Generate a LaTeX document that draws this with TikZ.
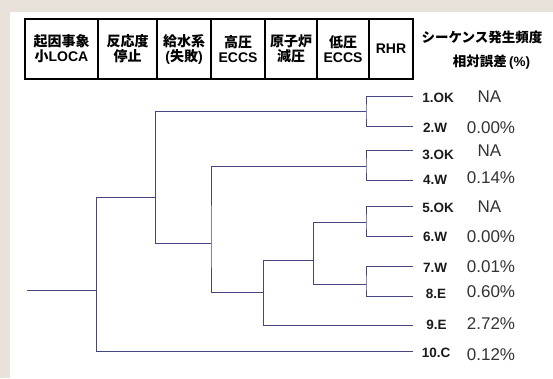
\documentclass[tikz,border=0pt]{standalone}
\usepackage{fontspec}
\setmainfont{Liberation Sans}
\newfontfamily\cjk{Noto Sans CJK JP}
\definecolor{bgc}{HTML}{E9E2DB}
\definecolor{treec}{HTML}{45457F}
\definecolor{labc}{HTML}{1A1A1A}
\definecolor{valc}{HTML}{333333}
\begin{document}
\begin{tikzpicture}[x=1pt,y=-1pt,
  tree/.style={draw=treec, line width=1.0pt},
  hbox/.style={draw=black, line width=1.1pt, inner sep=0pt, align=center, minimum height=60pt,
    font=\bfseries\fontsize{14}{15}\selectfont, text=black},
  lab/.style={inner sep=0pt, font=\bfseries\fontsize{13.5}{14}\selectfont, text=labc},
  val/.style={inner sep=0pt, font=\fontsize{17}{18}\selectfont, text=valc},
  hdr/.style={inner sep=0pt, font=\bfseries\fontsize{13.5}{14}\selectfont, text=black}]
\fill[bgc] (0,0) rectangle (553,378);
\fill[white] (10,12) rectangle (553,378);
\useasboundingbox (0,0) rectangle (553,378);
% header boxes
\node[hbox, minimum width=73pt] (h1) at (61.5,49) {{\cjk 起因事象}\\{\cjk 小}LOCA};
\node[hbox, minimum width=59pt] (h2) at (127.5,49) {{\cjk 反応度}\\{\cjk 停止}};
\node[hbox, minimum width=54pt] (h3) at (184,49) {{\cjk 給水系}\\({\cjk 失敗})};
\node[hbox, minimum width=54pt] (h4) at (238,49) {{\cjk 高圧}\\ECCS};
\node[hbox, minimum width=52pt] (h5) at (291,49) {{\cjk 原子炉}\\{\cjk 減圧}};
\node[hbox, minimum width=52pt] (h6) at (343,49) {{\cjk 低圧}\\ECCS};
\node[hbox, minimum width=44pt] (h7) at (391,49) {RHR};
\node[hdr] (t1) at (482,37) {\cjk シーケンス発生頻度};
\node[hdr] (t2) at (491.5,62) {{\cjk 相対誤差}\,(\%)};
% tree coordinates
\coordinate (r0) at (26.7,290);
\coordinate (j0) at (96.7,290);
\coordinate (j1) at (155.7,197.7);
\coordinate (j12) at (366,111.7);
\coordinate (j2) at (211,243.3);
\coordinate (j34) at (366,166);
\coordinate (j3) at (263.3,292.3);
\coordinate (j4) at (313.3,260.3);
\coordinate (j56) at (366,222.3);
\coordinate (j78) at (366,284.3);
\coordinate (L1) at (413,96.7);
\coordinate (L2) at (413,126.7);
\coordinate (L3) at (413,150);
\coordinate (L4) at (413,180);
\coordinate (L5) at (413,206);
\coordinate (L6) at (413,236.7);
\coordinate (L7) at (413,266);
\coordinate (L8) at (413,296);
\coordinate (L9) at (413,325);
\coordinate (L10) at (413,351.7);
\draw[tree] (r0) -- (j0);
\draw[tree] (j1) -| (j0) |- (L10);
\draw[tree] (j12) -| (j1) |- (j2);
\draw[tree] (L1) -| (j12) |- (L2);
\draw[tree] (j34) -| (j2) |- (j3);
\draw[tree] (L3) -| (j34) |- (L4);
\draw[tree] (j4) -| (j3) |- (L9);
\draw[tree] (j56) -| (j4) |- (j78);
\draw[tree] (L5) -| (j56) |- (L6);
\draw[tree] (L7) -| (j78) |- (L8);
% labels
\node[lab] (n1) at (438,98) {1.OK};
\node[lab] (n2) at (435,128) {2.W};
\node[lab] (n3) at (438,155) {3.OK};
\node[lab] (n4) at (435,180) {4.W};
\node[lab] (n5) at (438,208) {5.OK};
\node[lab] (n6) at (435,237) {6.W};
\node[lab] (n7) at (435,268) {7.W};
\node[lab] (n8) at (436,294) {8.E};
\node[lab] (n9) at (436.5,325) {9.E};
\node[lab] (n10) at (436,353) {10.C};
\node[val] (v1) at (489.5,97) {NA};
\node[val] (v2) at (491,128) {0.00\%};
\node[val] (v3) at (489.5,151) {NA};
\node[val] (v4) at (491,178) {0.14\%};
\node[val] (v5) at (489.5,207) {NA};
\node[val] (v6) at (491,237) {0.00\%};
\node[val] (v7) at (491,267) {0.01\%};
\node[val] (v8) at (491,292) {0.60\%};
\node[val] (v9) at (491,323.5) {2.72\%};
\node[val] (v10) at (491,355) {0.12\%};
\end{tikzpicture}
\end{document}
